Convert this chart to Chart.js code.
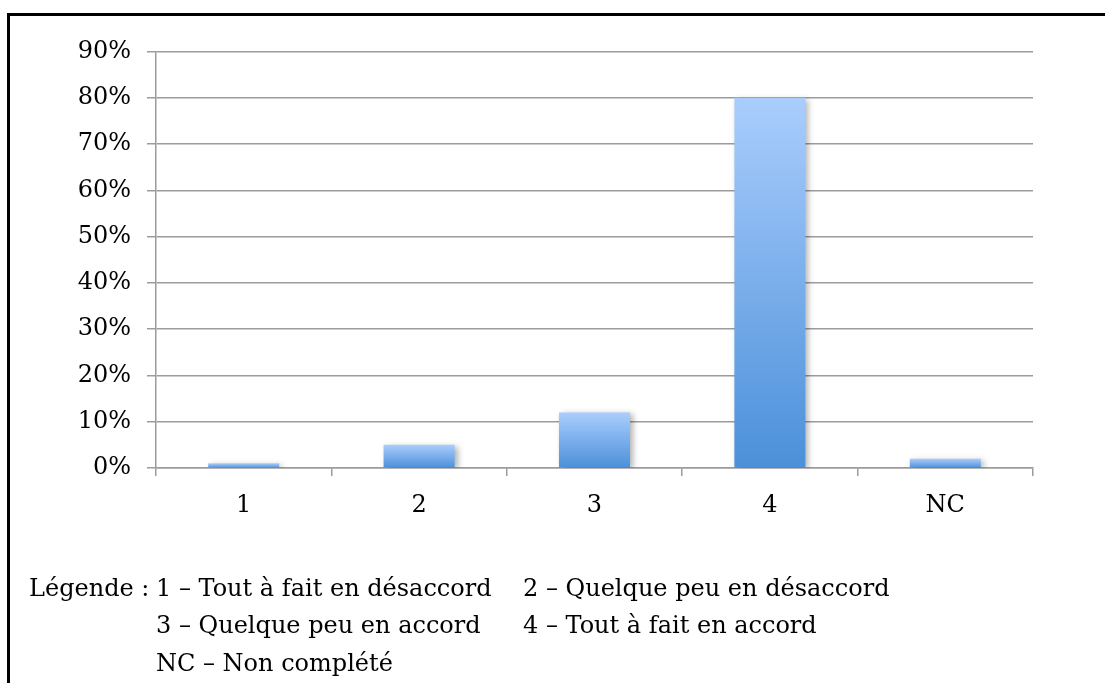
<!DOCTYPE html>
<html lang="fr">
<head>
<meta charset="utf-8">
<title>Répartition des réponses</title>
<script src="https://cdn.jsdelivr.net/npm/chart.js@4/dist/chart.umd.min.js"></script>
<style>
  html, body { margin: 0; padding: 0; background: #fff; overflow: hidden; }
  #page { position: relative; width: 1105px; height: 683px; overflow: hidden; }
  #frame {
    position: absolute; left: 7px; top: 13px; width: 2000px; height: 2000px;
    border: 3px solid #000; box-sizing: border-box;
  }
  #plot { position: absolute; left: 0; top: 0; width: 1105px; height: 683px; }
  .legend-text {
    position: absolute; font-family: "DejaVu Serif", serif; font-size: 24px;
    line-height: 37.7px; color: #000; white-space: pre;
  }
  .legend-title { text-align: right; }
</style>
</head>
<body>
<div id="page">
  <div id="frame"></div>
  <div id="plot"><canvas id="chart"></canvas></div>
  <div id="legend"></div>
</div>
<script>
// Réponses par niveau d'accord (en % des répondants)
const categories = ['1', '2', '3', '4', 'NC'];
const shares = [1, 5, 12, 80, 2];

// Graduations de l'axe vertical (en %)
const yTicks = [0, 10, 20, 30, 40, 50, 60, 70, 80, 90];

// Légende sous le graphique
const legendTitle = 'Légende :';
const legendColumn1 = ['1 – Tout à fait en désaccord', '3 – Quelque peu en accord', 'NC – Non complété'];
const legendColumn2 = ['2 – Quelque peu en désaccord', '4 – Tout à fait en accord'];

const serif = '"DejaVu Serif", serif';
const gridGrey = '#9c9c9c';

// Dégradé vertical propre à chaque barre (clair en haut, soutenu en bas)
function barGradient(ctx) {
  const chart = ctx.chart;
  const yScale = chart.scales.y;
  if (!chart.chartArea || !yScale || ctx.raw == null) return '#6fa6e6';
  const top = yScale.getPixelForValue(ctx.raw);
  const bottom = yScale.getPixelForValue(0);
  if (!isFinite(top) || !isFinite(bottom) || top === bottom) return '#6fa6e6';
  const g = chart.ctx.createLinearGradient(0, top, 0, bottom);
  g.addColorStop(0, '#aacdfd');
  g.addColorStop(1, '#4b90d9');
  return g;
}

// Ombre douce portée par les barres
const barShadow = {
  id: 'barShadow',
  beforeDatasetsDraw(chart) {
    const c = chart.ctx;
    c.save();
    c.shadowColor = 'rgba(0, 0, 0, 0.30)';
    c.shadowBlur = 6;
    c.shadowOffsetX = 3;
    c.shadowOffsetY = 2;
  },
  afterDatasetsDraw(chart) {
    chart.ctx.restore();
  }
};

new Chart(document.getElementById('chart'), {
  type: 'bar',
  data: {
    labels: categories,
    datasets: [{
      data: shares,
      backgroundColor: barGradient,
      borderWidth: 0,
      categoryPercentage: 1,
      barPercentage: 0.405
    }]
  },
  options: {
    responsive: true,
    maintainAspectRatio: false,
    animation: false,
    layout: { padding: { left: 0, top: 51.5, right: 72, bottom: 0 } },
    plugins: {
      legend: { display: false },
      tooltip: { enabled: false }
    },
    scales: {
      x: {
        offset: true,
        grid: {
          offset: true,
          drawOnChartArea: false,
          drawTicks: true,
          tickLength: 8,
          color: gridGrey,
          lineWidth: 1.5
        },
        border: { display: true, color: gridGrey, width: 1.5 },
        ticks: {
          color: '#000',
          padding: 15,
          font: { family: serif, size: 24 }
        },
        afterFit(scale) { scale.height = 683 - 468; }
      },
      y: {
        min: 0,
        max: 90,
        afterBuildTicks(scale) { scale.ticks = yTicks.map(v => ({ value: v })); },
        grid: {
          color: gridGrey,
          lineWidth: 1.5,
          drawTicks: true,
          tickLength: 9
        },
        border: { display: true, color: gridGrey, width: 1.5 },
        ticks: {
          color: '#000',
          padding: 16,
          font: { family: serif, size: 24 },
          callback: v => v + '%'
        },
        afterFit(scale) { scale.width = 156; }
      }
    }
  },
  plugins: [barShadow]
});

// Texte de la légende, aligné en colonnes
const legend = document.getElementById('legend');
function addText(text, left, row, cls) {
  const d = document.createElement('div');
  d.className = 'legend-text' + (cls ? ' ' + cls : '');
  d.textContent = text;
  d.style.top = (569.5 + row * 37.7) + 'px';
  legend.appendChild(d);
  if (cls === 'legend-title') {
    // le titre se termine juste avant la première colonne
    d.style.left = (left - d.offsetWidth) + 'px';
  } else {
    d.style.left = left + 'px';
  }
}
addText(legendTitle, 149, 0, 'legend-title');
legendColumn1.forEach((t, i) => addText(t, 156, i));
legendColumn2.forEach((t, i) => addText(t, 523, i));
</script>
</body>
</html>
